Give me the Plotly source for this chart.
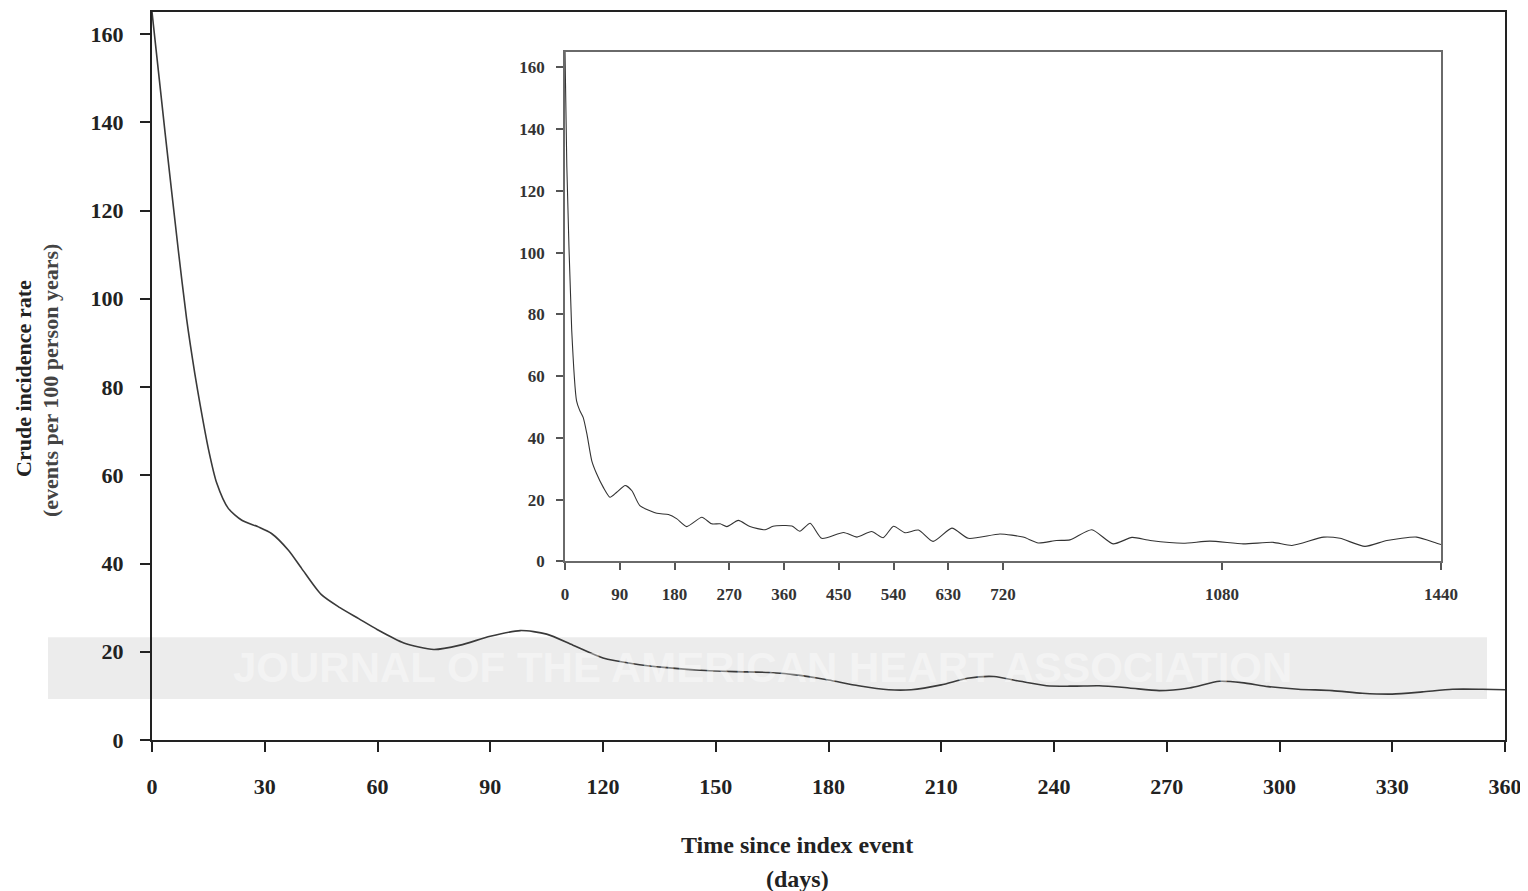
import plotly.graph_objects as go

# ---------------- data ----------------
main_days = [0, 3.5, 7, 9.2, 11.4, 12.8, 15, 17.2, 20.3, 23.9, 28.3, 31.8, 36.3, 39.8, 45, 50,
             55, 60, 67, 75, 82, 90, 98, 105, 112, 120, 128, 137, 146, 155, 164, 172, 180,
             188, 196, 202, 210, 217, 224, 231, 238, 245, 252, 260, 268, 276, 284, 290, 297,
             305, 314, 322, 330, 338, 346, 354, 360]
main_rate = [165, 137.5, 111, 95.5, 83, 76, 66, 58.3, 52.5, 49.8, 48.3, 46.8, 43, 38.9, 33, 30,
             27.5, 25, 22, 20.5, 21.5, 23.5, 24.8, 24, 21.5, 18.6, 17.3, 16.4, 15.8, 15.5,
             15.3, 14.7, 13.6, 12.3, 11.4, 11.4, 12.5, 14, 14.4, 13.3, 12.3, 12.2, 12.3, 11.8,
             11.2, 11.8, 13.3, 13, 12.1, 11.5, 11.2, 10.6, 10.4, 10.9, 11.5, 11.5, 11.4]

inset_days = [0, 3, 11, 19, 24, 30, 36, 44, 52, 63, 74, 85, 99, 110, 123, 151, 170, 184, 200,
              225, 241, 255, 266, 285, 304, 329, 342, 373, 386, 403, 422, 458, 480, 504, 523,
              540, 559, 581, 605, 636, 663, 715, 753, 778, 808, 830, 866, 901, 932, 962, 1016,
              1060, 1115, 1164, 1195, 1247, 1274, 1315, 1351, 1400, 1433, 1440]
inset_rate = [165, 128, 75, 52, 49, 46.6, 41.3, 32.6, 28.4, 24, 20.8, 22.4, 24.6, 22.9, 18.1,
              15.6, 15.2, 13.8, 11.3, 14.3, 12.2, 12.2, 11.3, 13.3, 11.3, 10.3, 11.4, 11.5, 9.8,
              12.4, 7.5, 9.4, 7.9, 9.7, 7.7, 11.4, 9.3, 10.2, 6.5, 10.8, 7.5, 8.9, 7.9, 6.0, 6.8,
              7.0, 10.3, 5.7, 7.8, 6.8, 5.9, 6.6, 5.7, 6.2, 5.2, 7.9, 7.5, 4.9, 6.8, 7.9, 5.9, 5.5]

main_xticks = list(range(0, 361, 30))
main_yticks = list(range(0, 161, 20))
inset_xticks = [0, 90, 180, 270, 360, 450, 540, 630, 720, 1080, 1440]
inset_yticks = list(range(0, 161, 20))

FONT = "Liberation Serif"

fig = go.Figure()
fig.add_trace(go.Scatter(x=main_days, y=main_rate, mode="lines",
                         line=dict(color="#3a3a3a", width=1.6, shape="spline", smoothing=0.7),
                         xaxis="x", yaxis="y", showlegend=False, hoverinfo="x+y"))
fig.add_trace(go.Scatter(x=inset_days, y=inset_rate, mode="lines",
                         line=dict(color="#333333", width=1.1, shape="spline", smoothing=0.6),
                         xaxis="x2", yaxis="y2", showlegend=False, hoverinfo="x+y"))

# page body has an 8px margin: work in reference pixels, shifted by OFF
OFF = 8
W, H = 1528 - OFF, 891 - OFF
L = 152 - OFF
T = 10 - OFF
R = W - (1505 - OFF)
B = H - (740 - OFF)
pw, ph = W - L - R, H - T - B


def px_x(p):
    return (p - OFF - L) / pw


def px_y(p):
    return (H - B - (p - OFF)) / ph


fig.update_layout(
    width=W, height=H,
    margin=dict(l=L, r=R, t=T, b=B),
    paper_bgcolor="white", plot_bgcolor="white",
    font=dict(family=FONT, color="#222222"),
    xaxis=dict(domain=[0, 1], range=[0, 360], tickvals=main_xticks,
               showgrid=False, zeroline=False, showline=True, linecolor="#222222",
               linewidth=2, mirror=True, ticks="outside", ticklen=10, tickwidth=2,
               tickcolor="#222222", ticklabelstandoff=16,
               tickfont=dict(family=FONT, size=22, color="#222222", weight="bold")),
    yaxis=dict(domain=[0, 1], range=[0, 165], tickvals=main_yticks,
               showgrid=False, zeroline=False, showline=True, linecolor="#222222",
               linewidth=2, mirror=True, ticks="outside", ticklen=10, tickwidth=2,
               tickcolor="#222222", ticklabelstandoff=12,
               tickfont=dict(family=FONT, size=22, color="#222222", weight="bold")),
    xaxis2=dict(domain=[px_x(565), px_x(1441)], range=[0, 1440], tickvals=inset_xticks,
                anchor="y2", showgrid=False, zeroline=False, showline=True,
                linecolor="#6a6a6a", linewidth=1.5, mirror=True, ticks="outside",
                ticklen=7, tickwidth=1.5, tickcolor="#555555", ticklabelstandoff=9,
                tickfont=dict(family=FONT, size=17, color="#333333", weight="bold")),
    yaxis2=dict(domain=[px_y(561), px_y(50)], range=[0, 165], tickvals=inset_yticks,
                anchor="x2", showgrid=False, zeroline=False, showline=True,
                linecolor="#6a6a6a", linewidth=1.5, mirror=True, ticks="outside",
                ticklen=7, tickwidth=1.5, tickcolor="#555555", ticklabelstandoff=8,
                tickfont=dict(family=FONT, size=17, color="#333333", weight="bold")),
)

# faint journal banner behind the plot
fig.add_shape(type="rect", xref="paper", yref="paper",
              x0=px_x(48), x1=px_x(1487), y0=px_y(699), y1=px_y(637),
              fillcolor="rgba(0,0,0,0.075)", line=dict(width=0), layer="below")

annotations = [
    dict(text="JOURNAL OF THE AMERICAN HEART ASSOCIATION", x=px_x(762), y=px_y(667),
         xref="paper", yref="paper", showarrow=False, xanchor="center", yanchor="middle",
         font=dict(family="Liberation Sans", size=42, color="rgba(255,255,255,0.4)",
                   weight="bold")),
    dict(text="Crude incidence rate", x=px_x(24), y=px_y(378), xref="paper", yref="paper",
         showarrow=False, textangle=-90, xanchor="center", yanchor="middle",
         font=dict(family=FONT, size=22, color="#222222", weight="bold")),
    dict(text="(events per 100 person years)", x=px_x(51), y=px_y(380), xref="paper",
         yref="paper", showarrow=False, textangle=-90, xanchor="center", yanchor="middle",
         font=dict(family=FONT, size=22, color="#444444", weight="bold")),
    dict(text="Time since index event", x=px_x(797), y=px_y(845), xref="paper",
         yref="paper", showarrow=False, xanchor="center", yanchor="middle",
         font=dict(family=FONT, size=24, color="#222222", weight="bold")),
    dict(text="(days)", x=px_x(797), y=px_y(879), xref="paper", yref="paper",
         showarrow=False, xanchor="center", yanchor="middle",
         font=dict(family=FONT, size=24, color="#222222", weight="bold")),
]
fig.update_layout(annotations=annotations)

fig.write_html("out.html")
